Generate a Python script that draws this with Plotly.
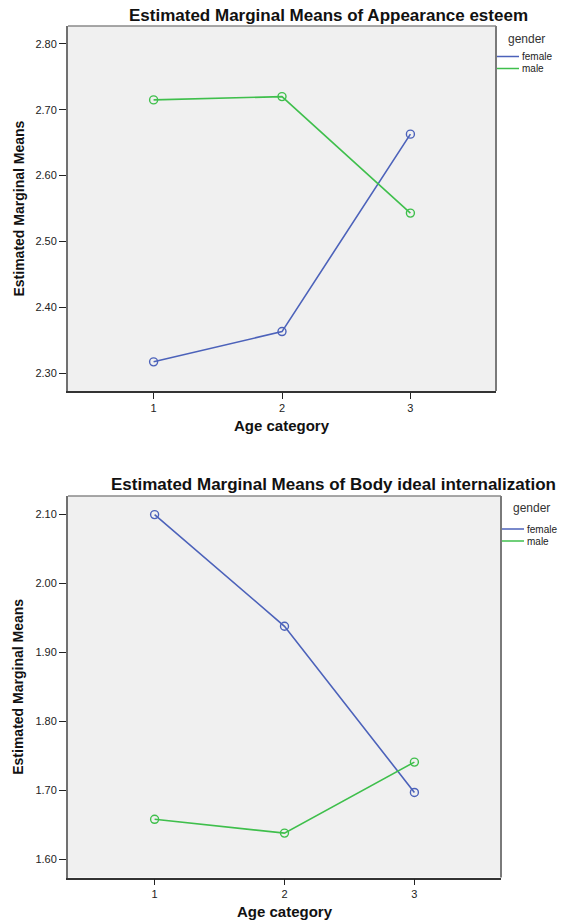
import plotly.graph_objects as go

# Age categories on the x axis
age_categories = [1, 2, 3]

# Estimated marginal means: Appearance esteem
appearance_female = [2.317, 2.363, 2.663]
appearance_male = [2.715, 2.720, 2.543]

# Estimated marginal means: Body ideal internalization
body_female = [2.100, 1.938, 1.697]
body_male = [1.658, 1.638, 1.741]

y_ticks_top = [2.30, 2.40, 2.50, 2.60, 2.70, 2.80]
y_ticks_bottom = [1.60, 1.70, 1.80, 1.90, 2.00, 2.10]

W, H = 561, 921
FEMALE = "#4C62BA"
MALE = "#3FBF4C"
FONT = "Liberation Sans, Arial, sans-serif"


def px_x(x):
    return x / W


def px_y(y):
    return 1 - y / H


fig = go.Figure()

# plot areas in pixel coordinates (left, top, right, bottom)
panels = [
    dict(box=(68, 26, 496, 391), female=appearance_female, male=appearance_male,
         yrange=[2.2727, 2.8273], yticks=y_ticks_top, xa="x", ya="y"),
    dict(box=(68, 496, 501, 877.5), female=body_female, male=body_male,
         yrange=[1.5736, 2.1270], yticks=y_ticks_bottom, xa="x2", ya="y2"),
]

for p in panels:
    for name, vals, col in (("female", p["female"], FEMALE), ("male", p["male"], MALE)):
        fig.add_trace(go.Scatter(
            x=age_categories, y=vals, name=name, mode="lines+markers",
            line=dict(color=col, width=1.6),
            marker=dict(symbol="circle-open", size=8, color=col, line=dict(width=1.4)),
            xaxis=p["xa"], yaxis=p["ya"], showlegend=False,
        ))

axis_common = dict(showgrid=False, zeroline=False, ticks="outside", tickcolor="#222222",
                   tickfont=dict(family=FONT, size=11, color="#222222"))

layout_axes = {}
for i, p in enumerate(panels):
    l, t, r, b = p["box"]
    suffix = "" if i == 0 else "2"
    layout_axes["xaxis" + suffix] = dict(
        axis_common, domain=[px_x(l), px_x(r)], range=[1 / 3, 11 / 3],
        tickvals=age_categories, ticklen=6, showline=True, linecolor="#333333",
        linewidth=1.5, anchor="y" + suffix, fixedrange=True)
    layout_axes["yaxis" + suffix] = dict(
        axis_common, domain=[px_y(b), px_y(t)], range=p["yrange"],
        tickvals=p["yticks"], tickformat=".2f", ticklen=7, showline=True,
        linecolor="#707070", linewidth=2, anchor="x" + suffix, fixedrange=True)

fig.update_layout(
    width=W, height=H, margin=dict(l=0, r=0, t=0, b=0),
    paper_bgcolor="white", plot_bgcolor="#F0F0F0",
    showlegend=False, **layout_axes,
)

shapes = []
annotations = []

titles = ["Estimated Marginal Means of Appearance esteem",
          "Estimated Marginal Means of Body ideal internalization"]
title_pos = [(328, 15), (333, 484)]
legend_pos = [(497, 39, 56.5, 68.5), (502, 508, 529, 541)]

for i, p in enumerate(panels):
    l, t, r, b = p["box"]
    # top and right frame lines
    shapes.append(dict(type="line", xref="paper", yref="paper",
                       x0=px_x(l), x1=px_x(r), y0=px_y(t), y1=px_y(t),
                       line=dict(color="#8A8A8A", width=1.5), layer="above"))
    shapes.append(dict(type="line", xref="paper", yref="paper",
                       x0=px_x(r), x1=px_x(r), y0=px_y(t), y1=px_y(b),
                       line=dict(color="#7A7A7A", width=2), layer="above"))

    # chart title
    tx, ty = title_pos[i]
    annotations.append(dict(text="<b>%s</b>" % titles[i], xref="paper", yref="paper",
                            x=px_x(tx), y=px_y(ty), xanchor="center", yanchor="middle",
                            showarrow=False, font=dict(family=FONT, size=17, color="#111111")))
    # x axis title
    annotations.append(dict(text="<b>Age category</b>", xref="paper", yref="paper",
                            x=px_x((l + r) / 2), y=px_y(b + 34), xanchor="center", yanchor="middle",
                            showarrow=False, font=dict(family=FONT, size=15, color="#111111")))
    # y axis title
    annotations.append(dict(text="<b>Estimated Marginal Means</b>", xref="paper", yref="paper",
                            x=px_x(18), y=px_y((t + b) / 2), xanchor="center", yanchor="middle",
                            textangle=-90, showarrow=False,
                            font=dict(family=FONT, size=14, color="#111111")))

    # legend block
    lx, gy, fy, my = legend_pos[i]
    annotations.append(dict(text="gender", xref="paper", yref="paper",
                            x=px_x(lx + 9), y=px_y(gy), xanchor="left", yanchor="middle",
                            showarrow=False, font=dict(family=FONT, size=12, color="#333333")))
    for label, yy, col in (("female", fy, FEMALE), ("male", my, MALE)):
        shapes.append(dict(type="line", xref="paper", yref="paper",
                           x0=px_x(lx), x1=px_x(lx + 22), y0=px_y(yy), y1=px_y(yy),
                           line=dict(color=col, width=1.5)))
        annotations.append(dict(text=label, xref="paper", yref="paper",
                                x=px_x(lx + 23), y=px_y(yy), xanchor="left", yanchor="middle",
                                showarrow=False, font=dict(family=FONT, size=10, color="#222222")))

fig.update_layout(shapes=shapes, annotations=annotations)

fig.write_html("out.html", config=dict(displayModeBar=False))
